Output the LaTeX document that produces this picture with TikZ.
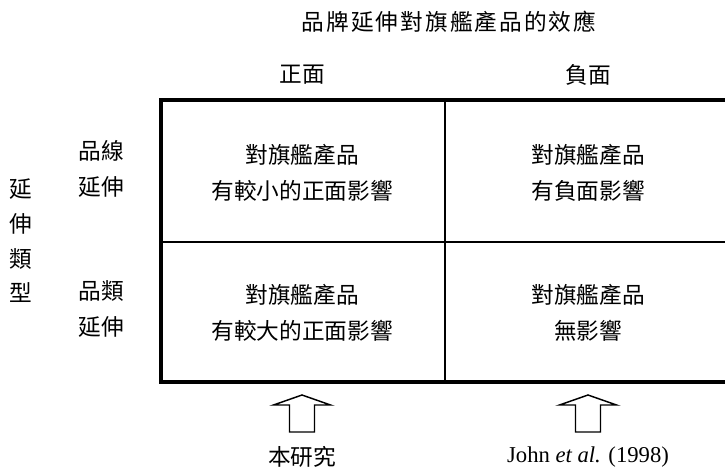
\documentclass[tikz,border=0pt]{standalone}
\usepackage{fontspec}
\setmainfont{Liberation Serif}
\newfontfamily\cjk{Noto Sans CJK TC}
\usetikzlibrary{positioning}

\begin{document}
\begin{tikzpicture}[x=0.75pt,y=-0.75pt,
    every node/.style={font=\cjk\fontsize{17}{27}\selectfont,align=center,inner sep=0pt},
    frame/.style={line width=3pt},
    grid/.style={line width=1.5pt},
    blockarrow/.style={line width=1.1pt,line join=miter}]
  \useasboundingbox (0,0) rectangle (725,471);
  % table
  \draw[frame] (161,100) rectangle (730,382);
  \begin{scope}[grid]
    \draw (445,100) -- (445,382);
    \draw (161,242) -- (730,242);
  \end{scope}
  % headings
  \node (title) at (449,22) {\addfontfeature{LetterSpace=9}品牌延伸對旗艦產品的效應};
  \node (pos) at (302,75) {正面};
  \node (neg) at (588,75) {負面};
  \node[font=\cjk\fontsize{17}{26}\selectfont] (type) at (21,241) {延\\伸\\類\\型};
  \node (line) at (101,169) {品線\\延伸};
  \node (cat) at (101,309) {品類\\延伸};
  % cells
  \node (c11) at (302,173) {對旗艦產品\\有較小的正面影響};
  \node (c12) at (588,173) {對旗艦產品\\有負面影響};
  \node (c21) at (302,313) {對旗艦產品\\有較大的正面影響};
  \node (c22) at (588,313) {對旗艦產品\\無影響};
  % sources
  \node (ours) at (302,457) {本研究};
  \node[font=\rmfamily\fontsize{17}{20}\selectfont] (john) at (588,457) {John \textit{et al.} (1998)};
  \foreach \c in {302,588}
    \draw[blockarrow] (\c-12.5,432) -- (\c-12.5,405) -- (\c-28.5,405) -- (\c,395)
      -- (\c+28.5,405) -- (\c+12.5,405) -- (\c+12.5,432) -- cycle;
\end{tikzpicture}
\end{document}
